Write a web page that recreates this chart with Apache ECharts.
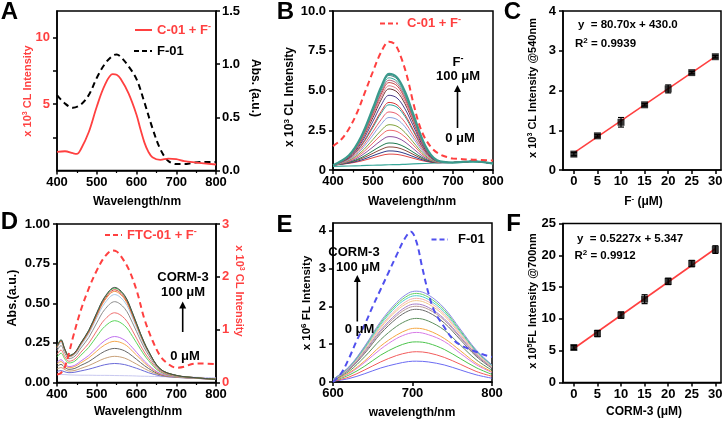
<!DOCTYPE html>
<html>
<head>
<meta charset="utf-8">
<script src="https://cdn.jsdelivr.net/npm/echarts@6/dist/echarts.min.js"></script>
<style>
  html, body { margin: 0; padding: 0; background: #fff; }
  #chart { width: 727px; height: 425px; }
</style>
</head>
<body>
<div id="chart"></div>
<script>
// ---------- panel A ----------
const waveA_CL = [400, 420, 440, 450, 460, 480, 500, 520, 540, 550, 560, 580, 600, 610, 620, 630, 640, 660, 680, 700, 720, 750, 800];
const clA = [1.4, 1.45, 1.3, 1.25, 1.6, 2.9, 4.8, 6.4, 7.25, 7.2, 6.9, 5.8, 4.2, 3.1, 2.1, 1.4, 1.0, 0.8, 0.9, 0.85, 0.7, 0.6, 0.45];
const waveA_Abs = [400, 420, 440, 460, 480, 500, 520, 540, 550, 560, 580, 600, 620, 640, 660, 680, 700, 720, 740, 760, 800];
const absA = [0.71, 0.63, 0.59, 0.62, 0.71, 0.87, 1.0, 1.08, 1.09, 1.07, 0.98, 0.86, 0.64, 0.4, 0.2, 0.09, 0.06, 0.06, 0.07, 0.08, 0.08];

// ---------- panel B ----------
const waveB = [400, 440, 470, 500, 520, 540, 560, 580, 600, 630, 660, 700, 750, 800];
const bBlank = [0.22, 0.25, 0.27, 0.3, 0.31, 0.33, 0.34, 0.36, 0.38, 0.41, 0.44, 0.48, 0.5, 0.42];
const bTitration = [
  [0.3, 0.42, 0.56, 0.77, 0.91, 1.0, 0.98, 0.88, 0.74, 0.55, 0.46, 0.47, 0.55, 0.4],
  [0.3, 0.44, 0.62, 0.9, 1.08, 1.2, 1.17, 1.04, 0.85, 0.59, 0.46, 0.47, 0.55, 0.4],
  [0.3, 0.47, 0.7, 1.05, 1.29, 1.45, 1.41, 1.24, 0.99, 0.64, 0.47, 0.47, 0.55, 0.4],
  [0.3, 0.49, 0.77, 1.21, 1.51, 1.7, 1.65, 1.44, 1.13, 0.69, 0.48, 0.47, 0.55, 0.4],
  [0.3, 0.53, 0.89, 1.45, 1.85, 2.1, 2.03, 1.76, 1.35, 0.77, 0.49, 0.47, 0.55, 0.4],
  [0.3, 0.57, 1.01, 1.7, 2.19, 2.5, 2.42, 2.08, 1.58, 0.85, 0.5, 0.47, 0.55, 0.4],
  [0.3, 0.61, 1.12, 1.92, 2.48, 2.85, 2.75, 2.36, 1.77, 0.92, 0.51, 0.47, 0.55, 0.4],
  [0.3, 0.65, 1.25, 2.2, 2.87, 3.3, 3.18, 2.72, 2.02, 1.01, 0.53, 0.47, 0.55, 0.4],
  [0.3, 0.69, 1.36, 2.42, 3.16, 3.65, 3.52, 3.0, 2.22, 1.08, 0.54, 0.47, 0.55, 0.4],
  [0.3, 0.73, 1.49, 2.69, 3.55, 4.1, 3.95, 3.36, 2.47, 1.17, 0.55, 0.47, 0.55, 0.4],
  [0.3, 0.75, 1.54, 2.79, 3.67, 4.25, 4.1, 3.48, 2.56, 1.2, 0.56, 0.47, 0.55, 0.4],
  [0.3, 0.79, 1.67, 3.07, 4.06, 4.7, 4.53, 3.84, 2.81, 1.29, 0.57, 0.47, 0.55, 0.4],
  [0.3, 0.83, 1.79, 3.31, 4.4, 5.1, 4.91, 4.16, 3.03, 1.37, 0.58, 0.47, 0.55, 0.4],
  [0.3, 0.85, 1.85, 3.44, 4.57, 5.3, 5.1, 4.32, 3.14, 1.41, 0.59, 0.47, 0.55, 0.4],
  [0.3, 0.87, 1.91, 3.56, 4.74, 5.5, 5.3, 4.48, 3.26, 1.45, 0.59, 0.47, 0.55, 0.4],
  [0.3, 0.89, 1.96, 3.66, 4.86, 5.65, 5.44, 4.6, 3.34, 1.48, 0.6, 0.47, 0.55, 0.4],
  [0.3, 0.9, 2.0, 3.75, 4.99, 5.8, 5.58, 4.72, 3.42, 1.51, 0.6, 0.47, 0.55, 0.4],
  [0.3, 0.92, 2.05, 3.84, 5.12, 5.95, 5.73, 4.84, 3.51, 1.54, 0.61, 0.47, 0.55, 0.4],
  [0.3, 0.93, 2.08, 3.9, 5.2, 6.05, 5.82, 4.92, 3.56, 1.56, 0.61, 0.47, 0.55, 0.4]
];
const bColors = ['#e04848', '#2e3a87', '#8b4a3c', '#1f7a4f', '#8e4fa0', '#f06a6a', '#7fa23a', '#8aa0e0', '#e86070',
  '#2aa39a', '#d83838', '#4a3a8a', '#6b3030', '#e27f8f', '#c84848', '#b0607a', '#3aa89a', '#5a8080', '#3a9a8c'];
const waveB_ref = [400, 420, 440, 460, 480, 500, 520, 540, 555, 570, 585, 600, 615, 630, 650, 670, 690, 700, 750, 800];
const bRef = [1.5, 1.9, 2.6, 3.6, 4.9, 6.2, 7.4, 8.07, 7.9, 7.1, 5.9, 4.3, 2.9, 2.0, 1.3, 0.95, 0.78, 0.72, 0.65, 0.6];

// ---------- panel C ----------
const doseF = [0, 5, 10, 15, 20, 25, 30];
const clC = [0.40, 0.86, 1.20, 1.64, 2.04, 2.45, 2.85];
const clC_err = [0.04, 0.03, 0.12, 0.03, 0.1, 0.03, 0.03];
const fitC_x = [0, 30];
const fitC_y = [0.43, 2.85];

// ---------- panel D ----------
const waveD = [400, 410, 420, 430, 445, 460, 480, 500, 520, 545, 570, 590, 610, 630, 660, 700, 750, 800];
const dBlank = [0.05, 0.05, 0.05, 0.048, 0.047, 0.046, 0.046, 0.045, 0.045, 0.044, 0.043, 0.042, 0.04, 0.039, 0.037, 0.035, 0.033, 0.03];
const dTitration = [
  [0.23, 0.27, 0.21, 0.17, 0.19, 0.25, 0.33, 0.44, 0.54, 0.60, 0.55, 0.44, 0.31, 0.20, 0.085, 0.045, 0.03, 0.02],
  [0.228, 0.268, 0.208, 0.169, 0.189, 0.248, 0.328, 0.437, 0.536, 0.595, 0.546, 0.437, 0.307, 0.198, 0.085, 0.045, 0.03, 0.02],
  [0.225, 0.264, 0.205, 0.167, 0.186, 0.244, 0.323, 0.429, 0.527, 0.585, 0.536, 0.429, 0.303, 0.196, 0.084, 0.045, 0.03, 0.02],
  [0.221, 0.26, 0.202, 0.164, 0.183, 0.241, 0.317, 0.422, 0.518, 0.575, 0.527, 0.422, 0.298, 0.193, 0.083, 0.044, 0.03, 0.02],
  [0.215, 0.252, 0.196, 0.16, 0.178, 0.233, 0.307, 0.408, 0.5, 0.555, 0.509, 0.408, 0.288, 0.187, 0.081, 0.044, 0.03, 0.02],
  [0.2, 0.233, 0.183, 0.15, 0.166, 0.217, 0.284, 0.376, 0.46, 0.51, 0.468, 0.376, 0.267, 0.174, 0.077, 0.043, 0.029, 0.02],
  [0.177, 0.205, 0.162, 0.134, 0.148, 0.191, 0.248, 0.326, 0.397, 0.44, 0.404, 0.326, 0.233, 0.154, 0.071, 0.041, 0.029, 0.02],
  [0.16, 0.185, 0.147, 0.123, 0.135, 0.172, 0.222, 0.291, 0.353, 0.39, 0.359, 0.291, 0.21, 0.139, 0.066, 0.039, 0.028, 0.02],
  [0.127, 0.144, 0.118, 0.1, 0.109, 0.135, 0.171, 0.219, 0.264, 0.29, 0.268, 0.219, 0.162, 0.111, 0.057, 0.037, 0.027, 0.02],
  [0.117, 0.132, 0.109, 0.093, 0.101, 0.124, 0.156, 0.198, 0.237, 0.26, 0.241, 0.198, 0.148, 0.102, 0.054, 0.036, 0.027, 0.02],
  [0.102, 0.114, 0.095, 0.083, 0.089, 0.108, 0.132, 0.166, 0.197, 0.215, 0.2, 0.166, 0.126, 0.089, 0.05, 0.035, 0.027, 0.02],
  [0.085, 0.094, 0.081, 0.072, 0.076, 0.089, 0.107, 0.13, 0.152, 0.165, 0.154, 0.13, 0.102, 0.075, 0.046, 0.033, 0.026, 0.02],
  [0.07, 0.075, 0.067, 0.062, 0.065, 0.073, 0.084, 0.098, 0.112, 0.12, 0.113, 0.098, 0.081, 0.062, 0.042, 0.032, 0.026, 0.02]
];
const dColors = ['#4a4a4a', '#3cb44b', '#d23c3c', '#f08a3c', '#a8c8e8', '#8c8c8c', '#f07070', '#5cd65c',
  '#c070f0', '#f5a850', '#666666', '#c8a078', '#6a6ad8'];
const waveD_ref = [400, 410, 420, 430, 440, 460, 480, 500, 520, 540, 550, 560, 580, 600, 620, 640, 660, 680, 700, 720, 740, 760, 800];
const dRef = [0.15, 0.18, 0.3, 0.55, 0.85, 1.37, 1.78, 2.12, 2.38, 2.5, 2.48, 2.4, 2.15, 1.75, 1.2, 0.8, 0.5, 0.35, 0.28, 0.3, 0.35, 0.36, 0.35];

// ---------- panel E ----------
const waveE = [600, 620, 640, 660, 680, 695, 705, 720, 740, 760, 780, 800];
const eTitration = [
  [0.07, 0.40, 0.95, 1.6, 2.1, 2.35, 2.4, 2.3, 1.95, 1.4, 0.85, 0.45],
  [0.07, 0.39, 0.93, 1.56, 2.05, 2.29, 2.34, 2.24, 1.9, 1.36, 0.83, 0.44],
  [0.07, 0.38, 0.9, 1.52, 2.0, 2.23, 2.28, 2.18, 1.85, 1.33, 0.81, 0.43],
  [0.06, 0.37, 0.88, 1.47, 1.93, 2.16, 2.21, 2.12, 1.8, 1.29, 0.78, 0.41],
  [0.06, 0.36, 0.85, 1.43, 1.88, 2.1, 2.15, 2.06, 1.75, 1.25, 0.76, 0.4],
  [0.06, 0.34, 0.82, 1.37, 1.8, 2.02, 2.06, 1.97, 1.67, 1.2, 0.73, 0.39],
  [0.06, 0.33, 0.79, 1.33, 1.75, 1.96, 2.0, 1.92, 1.63, 1.17, 0.71, 0.38],
  [0.06, 0.32, 0.76, 1.28, 1.68, 1.88, 1.92, 1.84, 1.56, 1.12, 0.68, 0.36],
  [0.05, 0.28, 0.67, 1.12, 1.47, 1.64, 1.68, 1.61, 1.37, 0.98, 0.59, 0.31],
  [0.04, 0.24, 0.56, 0.95, 1.24, 1.39, 1.42, 1.36, 1.15, 0.83, 0.5, 0.27],
  [0.04, 0.22, 0.52, 0.87, 1.15, 1.28, 1.31, 1.25, 1.07, 0.76, 0.46, 0.25],
  [0.03, 0.18, 0.42, 0.71, 0.93, 1.04, 1.06, 1.02, 0.86, 0.62, 0.38, 0.2],
  [0.02, 0.13, 0.32, 0.53, 0.7, 0.78, 0.8, 0.77, 0.65, 0.47, 0.28, 0.15],
  [0.02, 0.09, 0.22, 0.37, 0.48, 0.54, 0.55, 0.53, 0.45, 0.32, 0.19, 0.1]
];
const eColors = ['#8a8ae6', '#66d166', '#4fd0d0', '#f2b0b0', '#f2c88a', '#a57cc8', '#b89a9a', '#6b6b6b',
  '#5e8f5e', '#f5a742', '#d77ae6', '#4cc44c', '#f25c5c', '#6b6bf2'];
const waveE_ref = [600, 610, 620, 630, 640, 650, 660, 670, 680, 690, 698, 705, 712, 720, 728, 740, 750, 760, 775, 790, 800];
const eRef = [0.0, 0.22, 0.62, 1.1, 1.52, 2.0, 2.45, 2.9, 3.35, 3.78, 3.97, 3.7, 3.05, 2.35, 1.85, 1.45, 1.15, 0.98, 0.84, 0.72, 0.66];

// ---------- panel F ----------
const doseCO = [0, 5, 10, 15, 20, 25, 30];
const flF = [5.5, 7.7, 10.6, 13.1, 15.9, 18.7, 20.9];
const flF_err = [0.3, 0.5, 0.5, 0.7, 0.5, 0.5, 0.6];
const fitF_x = [0, 30];
const fitF_y = [5.35, 21.03];

const doseTicks = [0, 5, 10, 15, 20, 25, 30];

const FONT = '"Liberation Sans", Arial, Helvetica, sans-serif';
const RED = '#ff4040';

function mkAxis(o) {
  const tick = { show: true, length: 4, lineStyle: { color: '#000', width: 1.5 } };
  if (o.tickValues) tick.customValues = o.tickValues;
  const label = { color: o.labelColor || '#000', fontFamily: FONT, fontWeight: 'bold', fontSize: 13, margin: o.margin || 7 };
  if (o.labelValues) label.customValues = o.labelValues;
  if (o.fmt) label.formatter = o.fmt;
  const a = {
    type: 'value', gridIndex: o.grid, min: o.min, max: o.max,
    axisLine: { show: true, onZero: false, lineStyle: { color: '#000', width: 1.5 } },
    axisTick: tick,
    minorTick: o.minor ? { show: true, splitNumber: 2, length: 2.5, lineStyle: { color: '#000', width: 1.2 } } : { show: false },
    axisLabel: label,
    splitLine: { show: false }
  };
  if (o.interval) a.interval = o.interval;
  if (o.position) a.position = o.position;
  return a;
}

function line(xs, ys, xi, yi, color, width, dashed, z) {
  return {
    type: 'line', xAxisIndex: xi, yAxisIndex: yi,
    data: xs.map((x, i) => [x, ys[i]]),
    showSymbol: false, smooth: 0.35, silent: true, z: z || 2,
    lineStyle: { color, width, type: dashed ? [6, 4] : 'solid' }
  };
}

function errBars(xs, ys, es, xi, yi) {
  return {
    type: 'custom', xAxisIndex: xi, yAxisIndex: yi, z: 4,
    data: xs.map((x, i) => [x, ys[i] - es[i], ys[i] + es[i]]),
    encode: { x: 0, y: [1, 2] },
    renderItem: (params, api) => {
      const lo = api.coord([api.value(0), api.value(1)]);
      const hi = api.coord([api.value(0), api.value(2)]);
      const st = { stroke: '#000', lineWidth: 1.2 };
      return {
        type: 'group', children: [
          { type: 'line', shape: { x1: lo[0], y1: lo[1], x2: hi[0], y2: hi[1] }, style: st },
          { type: 'line', shape: { x1: lo[0] - 3, y1: lo[1], x2: lo[0] + 3, y2: lo[1] }, style: st },
          { type: 'line', shape: { x1: hi[0] - 3, y1: hi[1], x2: hi[0] + 3, y2: hi[1] }, style: st }
        ]
      };
    }
  };
}

function squares(xs, ys, xi, yi) {
  return {
    type: 'scatter', xAxisIndex: xi, yAxisIndex: yi, z: 5, silent: true,
    symbol: 'rect', symbolSize: 7,
    itemStyle: { color: '#000' },
    data: xs.map((x, i) => [x, ys[i]])
  };
}

function rich(size, color) {
  return {
    n: { fontFamily: FONT, fontWeight: 'bold', fontSize: size, fill: color, lineHeight: size * 1.25 },
    s: { fontFamily: FONT, fontWeight: 'bold', fontSize: Math.round(size * 0.68), fill: color, verticalAlign: 'top' }
  };
}

function txt(x, y, text, size, color, o) {
  o = o || {};
  return {
    type: 'text', x, y, rotation: o.rot || 0, z: 10, silent: true,
    style: {
      text, rich: rich(size, color || '#000'),
      fill: color || '#000', font: 'bold ' + size + 'px ' + FONT,
      align: o.align || 'center', verticalAlign: 'middle'
    }
  };
}

function legLine(x1, x2, y, color, dashed) {
  return {
    type: 'line', z: 10, silent: true,
    shape: { x1, y1: y, x2, y2: y },
    style: { stroke: color, lineWidth: 2, lineDash: dashed ? [5, 3] : null }
  };
}

function arrow(x, yBottom, yTip) {
  return [
    { type: 'line', z: 10, silent: true, shape: { x1: x, y1: yBottom, x2: x, y2: yTip + 6 }, style: { stroke: '#000', lineWidth: 1.6 } },
    { type: 'polygon', z: 10, silent: true, shape: { points: [[x - 3.5, yTip + 7], [x + 3.5, yTip + 7], [x, yTip]] }, style: { fill: '#000' } }
  ];
}

const P = Math.PI / 2;
const grids = [
  { left: 57, top: 11, width: 159, height: 159.5 },
  { left: 333, top: 11, width: 160, height: 159 },
  { left: 563, top: 11, width: 158, height: 159 },
  { left: 57, top: 224, width: 159, height: 158.5 },
  { left: 333, top: 223, width: 159, height: 159 },
  { left: 563, top: 223.5, width: 158, height: 159 }
].map(g => Object.assign({ show: true, borderColor: '#000', borderWidth: 1.5, backgroundColor: 'transparent' }, g));

const xAxes = [
  mkAxis({ grid: 0, min: 400, max: 800, interval: 100, minor: true, margin: 5 }),
  mkAxis({ grid: 1, min: 400, max: 800, interval: 100, minor: true, margin: 5 }),
  mkAxis({ grid: 2, min: -2.3, max: 31.2, tickValues: doseTicks, labelValues: doseTicks, margin: 5 }),
  mkAxis({ grid: 3, min: 400, max: 800, interval: 100, minor: true, margin: 5 }),
  mkAxis({ grid: 4, min: 600, max: 800, interval: 100, margin: 5 }),
  mkAxis({ grid: 5, min: -2.3, max: 31.2, tickValues: doseTicks, labelValues: doseTicks, margin: 5 })
];

const yAxes = [
  mkAxis({ grid: 0, min: 0, max: 12, tickValues: [2.5, 5, 7.5, 10], labelValues: [5, 10], labelColor: RED }),
  mkAxis({ grid: 0, min: 0, max: 1.5, interval: 0.5, position: 'right', fmt: v => v.toFixed(1), margin: 6 }),
  mkAxis({ grid: 1, min: 0, max: 10, interval: 2.5, fmt: v => (v === 0 ? '0' : v.toFixed(1)) }),
  mkAxis({ grid: 2, min: 0, max: 4, interval: 1 }),
  mkAxis({ grid: 3, min: 0, max: 1, interval: 0.25, fmt: v => v.toFixed(2) }),
  mkAxis({ grid: 3, min: 0, max: 3, interval: 1, position: 'right', labelColor: RED, margin: 6 }),
  mkAxis({ grid: 4, min: 0, max: 4.2, tickValues: [0, 1, 2, 3, 4], labelValues: [0, 1, 2, 3, 4] }),
  mkAxis({ grid: 5, min: 0, max: 25, interval: 5 })
];

const series = [];
// A
series.push(line(waveA_Abs, absA, 0, 1, '#000', 2, true, 3));
series.push(line(waveA_CL, clA, 0, 0, RED, 1.8, false, 3));
// B
series.push(line(waveB, bBlank, 1, 2, '#3aa89a', 1.2, false));
bTitration.forEach((c, i) => {
  series.push(line(waveB, c, 1, 2, bColors[i], i === bTitration.length - 1 ? 2.2 : 1, false));
});
series.push(line(waveB_ref, bRef, 1, 2, RED, 2, true, 3));
// C
series.push(line(fitC_x, fitC_y, 2, 3, RED, 1.6, false, 3));
series.push(errBars(doseF, clC, clC_err, 2, 3));
series.push(squares(doseF, clC, 2, 3));
// D
series.push(line(waveD, dBlank, 3, 4, '#c8c8f0', 1, false));
dTitration.slice().reverse().forEach((c, i) => {
  const idx = dTitration.length - 1 - i;
  series.push(line(waveD, c, 3, 4, dColors[idx], 1, false));
});
series.push(line(waveD_ref, dRef, 3, 5, RED, 2, true, 3));
// E
eTitration.slice().reverse().forEach((c, i) => {
  const idx = eTitration.length - 1 - i;
  series.push(line(waveE, c, 4, 6, eColors[idx], 1, false));
});
series.push(line(waveE_ref, eRef, 4, 6, '#5050ee', 2, true, 3));
// F
series.push(line(fitF_x, fitF_y, 5, 7, RED, 1.6, false, 3));
series.push(errBars(doseCO, flF, flF_err, 5, 7));
series.push(squares(doseCO, flF, 5, 7));

const graphics = [
  // panel letters
  txt(9.5, 12, 'A', 24), txt(285.5, 12.5, 'B', 24), txt(512.5, 12.5, 'C', 24),
  txt(9.5, 222.5, 'D', 24), txt(284.5, 225.5, 'E', 24), txt(513.5, 224.5, 'F', 24),
  // A
  txt(28, 91, '{n|x 10}{s|3}{n| CL Intensity}', 11, RED, { rot: P }),
  txt(255, 88, 'Abs. (a.u.)', 12, '#000', { rot: -P }),
  txt(137, 202, 'Wavelength/nm', 12),
  legLine(135, 152, 30, RED, false),
  txt(157, 30, '{n|C-01 + F}{s|-}', 13, RED, { align: 'left' }),
  legLine(134, 152, 51, '#000', true),
  txt(157, 51, 'F-01', 13, '#000', { align: 'left' }),
  // B
  txt(290, 97, '{n|x 10}{s|3}{n| CL Intensity}', 12, '#000', { rot: P }),
  txt(412, 202, 'Wavelength/nm', 12),
  legLine(380, 398, 23.5, RED, true),
  txt(407, 23.5, '{n|C-01 + F}{s|-}', 13, RED, { align: 'left' }),
  txt(458, 62, '{n|F}{s|-}', 13),
  txt(458, 76.5, '100 μM', 13),
  ...arrow(457.5, 128, 85),
  txt(460, 138, '0 μM', 13),
  // C
  txt(533, 88, '{n|x 10}{s|3}{n| CL Intensity @540nm}', 11, '#000', { rot: P }),
  txt(643.5, 202, '{n|F}{s|-}{n| (μM)}', 12),
  txt(578, 25, 'y  = 80.70x + 430.0', 11.5, '#000', { align: 'left' }),
  txt(575, 43.5, '{n|R}{s|2}{n| = 0.9939}', 11.5, '#000', { align: 'left' }),
  // D
  txt(13, 298, 'Abs.(a.u.)', 12.5, '#000', { rot: P }),
  txt(239, 291, '{n|x 10}{s|3}{n| CL Intensity}', 11, RED, { rot: -P }),
  txt(138, 412, 'Wavelength/nm', 12),
  legLine(105, 122, 235, RED, true),
  txt(127, 235, '{n|FTC-01 + F}{s|-}', 13, RED, { align: 'left' }),
  txt(183, 277, 'CORM-3', 13),
  txt(183, 292, '100 μM', 13),
  ...arrow(182.7, 332, 301.5),
  txt(185, 356, '0 μM', 13),
  // E
  txt(306.5, 303, '{n|x 10}{s|6}{n| FL Intensity}', 11.5, '#000', { rot: P }),
  txt(412, 413, 'wavelength/nm', 12),
  legLine(431.5, 448, 239.5, '#5050ee', true),
  txt(458, 239.5, 'F-01', 13, '#000', { align: 'left' }),
  txt(354, 252, 'CORM-3', 13),
  txt(358, 267.5, '100 μM', 13),
  ...arrow(357.3, 321.5, 275),
  txt(359.5, 329, '0 μM', 13),
  // F
  txt(533, 301, '{n|x 10}{s|5}{n|FL Intensity @700nm}', 11, '#000', { rot: P }),
  txt(644, 412, 'CORM-3 (μM)', 12),
  txt(577, 239, 'y  = 0.5227x + 5.347', 11.5, '#000', { align: 'left' }),
  txt(574.5, 256, '{n|R}{s|2}{n| = 0.9912}', 11.5, '#000', { align: 'left' })
];

const chart = echarts.init(document.getElementById('chart'), null, { renderer: 'canvas' });
chart.setOption({
  animation: false,
  backgroundColor: '#fff',
  grid: grids,
  xAxis: xAxes,
  yAxis: yAxes,
  series,
  graphic: graphics
});
</script>
</body>
</html>
